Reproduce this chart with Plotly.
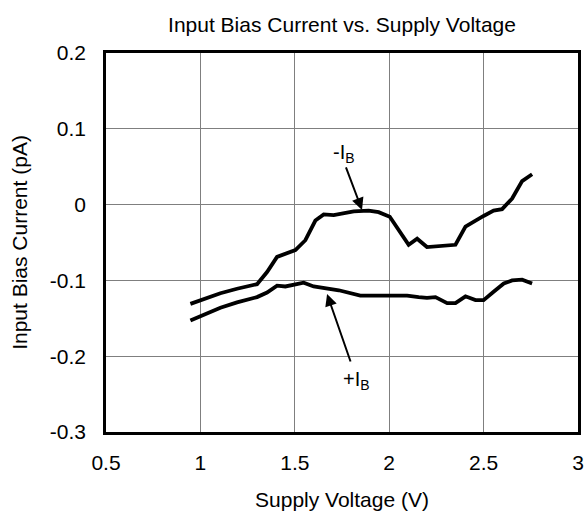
import plotly.graph_objects as go

# -I_B curve
neg_x = [0.947, 1.0, 1.106, 1.194, 1.256, 1.30, 1.353, 1.406, 1.503, 1.556, 1.609, 1.653, 1.706, 1.812, 1.891, 1.944, 2.003, 2.103, 2.148, 2.20, 2.351, 2.404, 2.50, 2.553, 2.598, 2.651, 2.704, 2.757]
neg_y = [-0.131, -0.126, -0.117, -0.111, -0.108, -0.105, -0.089, -0.069, -0.060, -0.047, -0.021, -0.013, -0.014, -0.009, -0.008, -0.010, -0.016, -0.053, -0.045, -0.056, -0.053, -0.029, -0.015, -0.008, -0.006, 0.008, 0.031, 0.040]

# +I_B curve
pos_x = [0.947, 1.0, 1.106, 1.194, 1.30, 1.353, 1.406, 1.45, 1.503, 1.547, 1.60, 1.671, 1.733, 1.847, 1.918, 2.003, 2.095, 2.156, 2.20, 2.245, 2.307, 2.351, 2.404, 2.457, 2.50, 2.553, 2.607, 2.651, 2.704, 2.757]
pos_y = [-0.153, -0.147, -0.136, -0.129, -0.122, -0.116, -0.107, -0.108, -0.105, -0.103, -0.108, -0.111, -0.113, -0.120, -0.120, -0.121, -0.120, -0.122, -0.123, -0.122, -0.130, -0.130, -0.121, -0.126, -0.126, -0.115, -0.104, -0.100, -0.099, -0.104]

x_ticks = [0.5, 1, 1.5, 2, 2.5, 3]
x_tick_labels = ["0.5", "1", "1.5", "2", "2.5", "3"]
y_ticks = [0.2, 0.1, 0, -0.1, -0.2, -0.3]
y_tick_labels = ["0.2", "0.1", "0", "-0.1", "-0.2", "-0.3"]

FONT = "Liberation Sans, Arial, sans-serif"
FS = 21

fig = go.Figure()
fig.add_trace(go.Scatter(x=neg_x, y=neg_y, mode="lines",
                         line=dict(color="black", width=3.8), showlegend=False))
fig.add_trace(go.Scatter(x=pos_x, y=pos_y, mode="lines",
                         line=dict(color="black", width=3.8), showlegend=False))

# arrows
fig.add_annotation(x=1.856, y=-0.007, ax=1.768, ay=0.051, xref="x", yref="y",
                   axref="x", ayref="y", showarrow=True, arrowhead=2, arrowsize=1.2,
                   arrowwidth=2, arrowcolor="black", text="")
fig.add_annotation(x=1.671, y=-0.118, ax=1.798, ay=-0.209, xref="x", yref="y",
                   axref="x", ayref="y", showarrow=True, arrowhead=2, arrowsize=1.2,
                   arrowwidth=2, arrowcolor="black", text="")
# labels
fig.add_annotation(x=1.76, y=0.068, text="-I<sub>B</sub>", showarrow=False,
                   font=dict(family=FONT, size=20, color="black"))
fig.add_annotation(x=1.825, y=-0.232, text="+I<sub>B</sub>", showarrow=False,
                   font=dict(family=FONT, size=20, color="black"))

fig.update_layout(
    width=585, height=513,
    margin=dict(l=106, r=7, t=53, b=81, autoexpand=False),
    paper_bgcolor="white", plot_bgcolor="white",
    title=dict(text="Input Bias Current vs. Supply Voltage", x=0.5, xanchor="center",
               xref="paper", y=0.951, yanchor="middle",
               font=dict(family=FONT, size=FS, color="black")),
    font=dict(family=FONT, color="black"),
)
fig.update_xaxes(range=[0.5, 3], tickvals=x_ticks, ticktext=x_tick_labels,
                 showgrid=True, gridcolor="#7f7f7f", gridwidth=1,
                 showline=True, linecolor="black", linewidth=2.5, mirror=True,
                 ticks="outside", ticklen=10, tickcolor="rgba(0,0,0,0)",
                 ticklabeloverflow="allow", automargin=False,
                 tickfont=dict(family=FONT, size=FS, color="black"), zeroline=False,
                 title=dict(text="Supply Voltage (V)", standoff=20,
                            font=dict(family=FONT, size=FS, color="black")))
fig.update_yaxes(range=[-0.3, 0.2], tickvals=y_ticks, ticktext=y_tick_labels,
                 showgrid=True, gridcolor="#7f7f7f", gridwidth=1,
                 showline=True, linecolor="black", linewidth=2.5, mirror=True,
                 ticks="outside", ticklen=13, tickcolor="rgba(0,0,0,0)",
                 ticklabeloverflow="allow", automargin=False,
                 tickfont=dict(family=FONT, size=FS, color="black"), zeroline=False,
                 title=dict(text="Input Bias Current (pA)", standoff=17,
                            font=dict(family=FONT, size=FS, color="black")))

fig.write_html("out.html", config={"displayModeBar": False},
               post_script="document.body.style.margin='0';document.body.style.overflow='hidden';")
